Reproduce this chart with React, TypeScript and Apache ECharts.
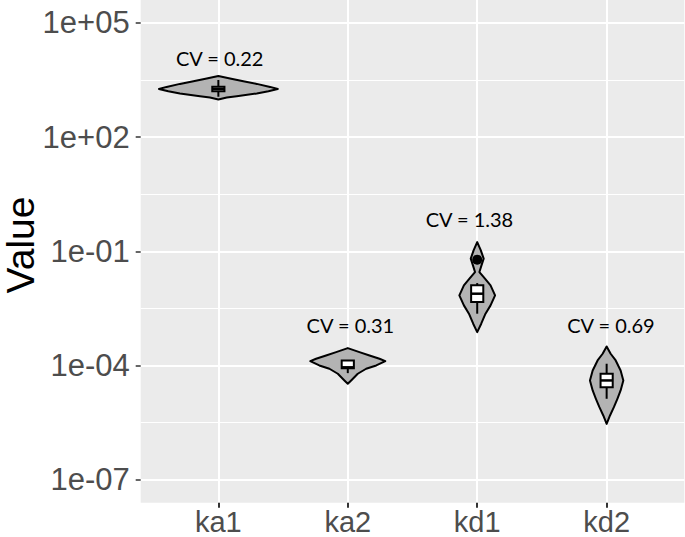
import React, { useEffect, useRef } from 'react';
import * as echarts from 'echarts';

// ---------- data ----------
const categories = ['ka1', 'ka2', 'kd1', 'kd2'];
const categoryPos = [1, 2, 3, 4];

// violin outlines: log10(value) from top to bottom, and half-width (category units)
const ka1Log = [3.607, 3.539, 3.468, 3.397, 3.318, 3.265, 3.205, 3.145, 3.074, 3.039, 2.987];
const ka1Half = [0, 0.09, 0.193, 0.297, 0.4, 0.459, 0.387, 0.297, 0.142, 0.065, 0];
const ka2Log = [-3.541, -3.647, -3.733, -3.82, -3.883, -3.996, -4.083, -4.214, -4.39, -4.477];
const ka2Half = [0, 0.09, 0.168, 0.245, 0.29, 0.22, 0.142, 0.077, 0.026, 0];
const kd1Log = [-0.756, -0.974, -1.192, -1.368, -1.544, -1.718, -1.893, -2.156, -2.419, -2.637, -2.9, -3.121];
const kd1Half = [0, 0.028, 0.05, 0.033, 0.017, 0.06, 0.103, 0.138, 0.103, 0.064, 0.031, 0];
const kd2Log = [-3.497, -3.689, -3.865, -4.128, -4.39, -4.653, -4.871, -5.092, -5.31, -5.53];
const kd2Half = [0, 0.031, 0.07, 0.108, 0.129, 0.108, 0.083, 0.056, 0.026, 0];

// boxplots (log10 values)
const whiskerTop = [3.5, -3.865, -1.833, -3.951];
const boxTop = [3.323, -3.865, -1.893, -4.214];
const median = [3.265, -4.045, -2.112, -4.39];
const boxBottom = [3.205, -4.067, -2.332, -4.566];
const whiskerBottom = [3.06, -4.198, -2.637, -4.871];
const outliers = [[], [], [-1.219], []];

// CV annotations
const cvLabels = ['CV = 0.22', 'CV = 0.31', 'CV = 1.38', 'CV = 0.69'];
const cvLabelLog = [4.07, -2.945, -0.159, -2.945];
const cvLabelDx = [0.01, 0.02, -0.06, 0.033];

// axis ticks
const yTickLogs = [-7, -4, -1, 2, 5];
const yTickLabels = ['1e-07', '1e-04', '1e-01', '1e+02', '1e+05'];
const yMinorLogs = [-5.5, -2.5, 0.5, 3.5];
const yRange = [-7.6, 5.6];
const xRange = [0.4, 4.6];

const violinLogs = [ka1Log, ka2Log, kd1Log, kd2Log];
const violinHalf = [ka1Half, ka2Half, kd1Half, kd2Half];

export default function App() {
  const ref = useRef<HTMLDivElement>(null);
  useEffect(() => {
    if (!ref.current) return;
    const chart = echarts.init(ref.current, null, { renderer: 'svg' });

    // fine category lists used only to place ticks / labels / grid lines
    const yFine: string[] = [];
    for (let k = Math.round(yRange[0] * 10); k <= Math.round(yRange[1] * 10); k++) yFine.push((k / 10).toFixed(1));
    const xFine: string[] = [];
    for (let k = Math.round(xRange[0] * 10); k <= Math.round(xRange[1] * 10); k++) xFine.push((k / 10).toFixed(1));
    const y0 = Math.round(yRange[0] * 10);
    const x0 = Math.round(xRange[0] * 10);
    const yMajor = new Set(yTickLogs.map((t) => Math.round(t * 10) - y0));
    const yMinor = new Set(yMinorLogs.map((t) => Math.round(t * 10) - y0));
    const xMajor = new Set(categoryPos.map((p) => Math.round(p * 10) - x0));

    const font = 'Liberation Sans, Arial, sans-serif';

    const option: any = {
      animation: false,
      backgroundColor: '#ffffff',
      grid: {
        left: 140.7,
        right: 0.7,
        top: 0,
        bottom: 34.3,
        show: true,
        backgroundColor: '#EBEBEB',
        borderWidth: 0,
      },
      xAxis: [
        { type: 'value', min: xRange[0], max: xRange[1], show: false },
        {
          type: 'category',
          position: 'bottom',
          boundaryGap: false,
          data: xFine,
          axisLine: { show: false },
          axisTick: {
            show: true,
            interval: (i: number) => xMajor.has(i),
            length: 5,
            lineStyle: { color: '#333333', width: 2 },
          },
          axisLabel: {
            interval: (i: number) => xMajor.has(i),
            formatter: (v: string) => {
              const k = categoryPos.findIndex((p) => Math.abs(p - parseFloat(v)) < 1e-6);
              return k >= 0 ? categories[k] : '';
            },
            color: '#4D4D4D',
            fontSize: 29,
            lineHeight: 29,
            fontFamily: font,
            margin: 4.5,
          },
          splitLine: {
            show: true,
            interval: (i: number) => xMajor.has(i),
            lineStyle: { color: '#ffffff', width: 2 },
          },
        },
      ],
      yAxis: [
        { type: 'value', min: yRange[0], max: yRange[1], show: false, position: 'left' },
        {
          type: 'category',
          position: 'left',
          boundaryGap: false,
          data: yFine,
          axisLine: { show: false },
          axisTick: {
            show: true,
            interval: (i: number) => yMajor.has(i),
            length: 5,
            lineStyle: { color: '#333333', width: 1.5 },
          },
          axisLabel: {
            interval: (i: number) => yMajor.has(i),
            formatter: (v: string) => {
              const k = yTickLogs.findIndex((t) => Math.abs(t - parseFloat(v)) < 1e-6);
              return k >= 0 ? yTickLabels[k] : '';
            },
            color: '#4D4D4D',
            fontSize: 31,
            fontFamily: font,
            margin: 11,
          },
          splitLine: {
            show: true,
            interval: (i: number) => yMajor.has(i),
            lineStyle: { color: '#ffffff', width: 2 },
          },
        },
        {
          type: 'category',
          position: 'left',
          boundaryGap: false,
          data: yFine,
          axisLine: { show: false },
          axisTick: { show: false },
          axisLabel: { show: false },
          splitLine: {
            show: true,
            interval: (i: number) => yMinor.has(i),
            lineStyle: { color: '#ffffff', width: 1.2 },
          },
        },
      ],
      graphic: [
        {
          type: 'text',
          x: 20.5,
          y: 245,
          rotation: Math.PI / 2,
          style: {
            text: 'Value',
            fontSize: 39,
            fontFamily: font,
            fill: '#000000',
            align: 'center',
            verticalAlign: 'middle',
          },
        },
      ],
      series: [
        {
          type: 'custom',
          coordinateSystem: 'cartesian2d',
          xAxisIndex: 0,
          yAxisIndex: 0,
          data: categoryPos.map((p, i) => [p, median[i]]),
          renderItem: (params: any, api: any) => {
            const i = params.dataIndex;
            const cx = api.value(0);
            const logs = violinLogs[i];
            const half = violinHalf[i];
            const pts: number[][] = [];
            for (let k = 0; k < logs.length; k++) pts.push(api.coord([cx + half[k], logs[k]]));
            for (let k = logs.length - 1; k >= 0; k--) pts.push(api.coord([cx - half[k], logs[k]]));
            const bw = 0.047;
            const wt = api.coord([cx, whiskerTop[i]]);
            const wb = api.coord([cx, whiskerBottom[i]]);
            const bt = api.coord([cx - bw, boxTop[i]]);
            const bb = api.coord([cx + bw, boxBottom[i]]);
            const md = api.coord([cx, median[i]]);
            const children: any[] = [
              {
                type: 'polygon',
                shape: { points: pts },
                style: { fill: '#B3B3B3', stroke: '#000000', lineWidth: 2, lineJoin: 'round' },
              },
              {
                type: 'line',
                shape: { x1: wt[0], y1: wt[1], x2: wb[0], y2: wb[1] },
                style: { stroke: '#000000', lineWidth: 2 },
              },
              {
                type: 'rect',
                shape: { x: bt[0], y: bt[1], width: bb[0] - bt[0], height: bb[1] - bt[1] },
                style: { fill: '#ffffff', stroke: '#000000', lineWidth: 2 },
              },
              {
                type: 'line',
                shape: { x1: bt[0], y1: md[1], x2: bb[0], y2: md[1] },
                style: { stroke: '#000000', lineWidth: 2.5 },
              },
            ];
            outliers[i].forEach((o) => {
              const p = api.coord([cx, o]);
              children.push({ type: 'circle', shape: { cx: p[0], cy: p[1], r: 5 }, style: { fill: '#000000' } });
            });
            return { type: 'group', children };
          },
        },
        {
          type: 'custom',
          coordinateSystem: 'cartesian2d',
          xAxisIndex: 0,
          yAxisIndex: 0,
          data: categoryPos.map((p, i) => [p + cvLabelDx[i], cvLabelLog[i]]),
          renderItem: (params: any, api: any) => {
            const p = api.coord([api.value(0), api.value(1)]);
            return {
              type: 'text',
              x: p[0],
              y: p[1],
              style: {
                text: cvLabels[params.dataIndex],
                fontSize: 20,
                fontFamily: 'Lato, Open Sans, sans-serif',
                fill: '#000000',
                align: 'center',
                verticalAlign: 'middle',
              },
            };
          },
        },
      ],
    };
    chart.setOption(option);
    return () => chart.dispose();
  }, []);
  return <div ref={ref} style={{ position: 'fixed', left: 0, top: 0, width: 685, height: 537 }} />;
}
